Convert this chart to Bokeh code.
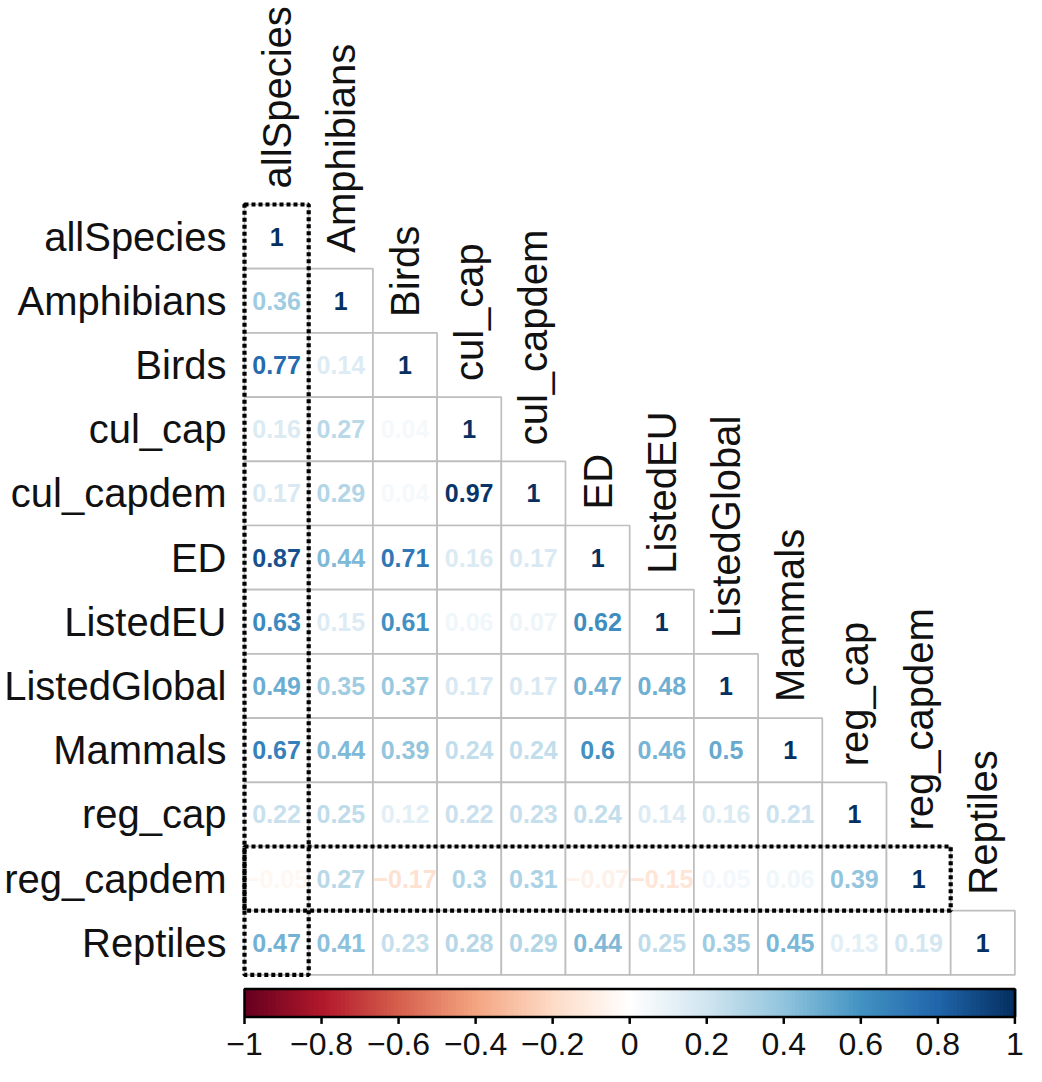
import math
from bokeh.plotting import figure
from bokeh.models import Range1d, ColumnDataSource
from bokeh.transform import linear_cmap
from bokeh.core.properties import value
from bokeh.embed import file_html
from bokeh.resources import INLINE

# ---------------- data ----------------
variables = ["allSpecies", "Amphibians", "Birds", "cul_cap", "cul_capdem", "ED",
             "ListedEU", "ListedGlobal", "Mammals", "reg_cap", "reg_capdem", "Reptiles"]

# lower triangle of the correlation matrix, row by row (columns 0..i)
corr_lower = [
    [1],
    [0.36, 1],
    [0.77, 0.14, 1],
    [0.16, 0.27, 0.04, 1],
    [0.17, 0.29, 0.04, 0.97, 1],
    [0.87, 0.44, 0.71, 0.16, 0.17, 1],
    [0.63, 0.15, 0.61, 0.06, 0.07, 0.62, 1],
    [0.49, 0.35, 0.37, 0.17, 0.17, 0.47, 0.48, 1],
    [0.67, 0.44, 0.39, 0.24, 0.24, 0.6, 0.46, 0.5, 1],
    [0.22, 0.25, 0.12, 0.22, 0.23, 0.24, 0.14, 0.16, 0.21, 1],
    [-0.05, 0.27, -0.17, 0.3, 0.31, -0.07, -0.15, 0.05, 0.06, 0.39, 1],
    [0.47, 0.41, 0.23, 0.28, 0.29, 0.44, 0.25, 0.35, 0.45, 0.13, 0.19, 1],
]

highlight_column = "allSpecies"
highlight_row = "reg_capdem"

colorbar_ticks = [-1, -0.8, -0.6, -0.4, -0.2, 0, 0.2, 0.4, 0.6, 0.8, 1]
colorbar_labels = ["\u22121", "\u22120.8", "\u22120.6", "\u22120.4", "\u22120.2", "0",
                   "0.2", "0.4", "0.6", "0.8", "1"]

rdbu_anchors = ["#67001F", "#B2182B", "#D6604D", "#F4A582", "#FDDBC7", "#FFFFFF",
                "#D1E5F0", "#92C5DE", "#4393C3", "#2166AC", "#053061"]

# ---------------- palette (colorRampPalette-like) ----------------
def hex2rgb(h):
    h = h.lstrip("#")
    return [int(h[k:k + 2], 16) for k in (0, 2, 4)]

def ramp(anchors, n):
    rgb = [hex2rgb(a) for a in anchors]
    m = len(anchors) - 1
    out = []
    for k in range(n):
        t = k / (n - 1) * m
        i = min(int(t), m - 1)
        f = t - i
        c = [round(rgb[i][q] + (rgb[i + 1][q] - rgb[i][q]) * f) for q in range(3)]
        out.append("#%02x%02x%02x" % tuple(c))
    return out

palette = ramp(rdbu_anchors, 200)

# ---------------- geometry (pixels) ----------------
W, H = 1026, 1066
CELL = 64.2
GRID_LEFT = 244.0
GRID_TOP = 204.0
n = len(variables)

x_start = -GRID_LEFT / CELL
x_end = (W - GRID_LEFT) / CELL
y_top = -GRID_TOP / CELL
y_bottom = (H - GRID_TOP) / CELL

p = figure(width=W, height=H, output_backend="svg", toolbar_location=None,
           x_range=Range1d(x_start, x_end), y_range=Range1d(y_bottom, y_top),
           min_border=0, x_axis_location=None, y_axis_location=None)
p.grid.visible = False
p.outline_line_color = None
p.background_fill_color = "white"
p.border_fill_color = "white"

# colorbar range: value -1 -> x=0 ; value 1 -> x=n
p.extra_x_ranges["cb"] = Range1d(-1 + x_start * 2 / n, -1 + x_end * 2 / n)

def fmt(v):
    s = ("%.2f" % v).rstrip("0").rstrip(".")
    return s.replace("-", "\u2212")

xs, ys, vals, labels = [], [], [], []
for i, row in enumerate(corr_lower):
    for j, v in enumerate(row):
        xs.append(j + 0.5)
        ys.append(i + 0.5)
        vals.append(v)
        labels.append(fmt(v))

src = ColumnDataSource(dict(x=xs, y=ys, r=vals, lab=labels))

p.rect(x="x", y="y", width=1, height=1, source=src, fill_color="white",
       line_color="#BEBEBE", line_width=1.7)

p.text(x="x", y="y", text="lab", source=src,
       text_color=linear_cmap("r", palette, -1, 1),
       text_font=value("Liberation Sans"), text_font_style="bold",
       text_font_size="25px", text_align="center", text_baseline="middle")

# row labels
p.text(x=[0] * n, y=[i + 0.5 for i in range(n)], text=variables,
       x_offset=-18, text_align="right", text_baseline="middle",
       text_font=value("Liberation Sans"), text_font_size="40px", text_color="#111111")

# column labels (rotated)
gap = 16 / CELL
p.text(x=[j + 0.5 for j in range(n)], y=[j - gap for j in range(n)], text=variables,
       angle=math.pi / 2, text_align="left", text_baseline="middle",
       text_font=value("Liberation Sans"), text_font_size="40px", text_color="#111111")

# highlight boxes
ci = variables.index(highlight_column)
ri = variables.index(highlight_row)
p.quad(left=[ci], right=[ci + 1], top=[ci], bottom=[n], fill_color=None,
       line_color="black", line_width=4.2, line_dash="4 3")
p.quad(left=[0], right=[ri + 1], top=[ri], bottom=[ri + 1], fill_color=None,
       line_color="black", line_width=4.2, line_dash="4 3")

# colorbar
bar_top = n + 14 / CELL
bar_bottom = n + 42 / CELL
m = len(palette)
step = 2.0 / m
p.quad(left=[-1 + k * step for k in range(m)],
       right=[-1 + (k + 1) * step + 0.004 for k in range(m)],
       top=bar_top, bottom=bar_bottom, fill_color=palette, line_color=None,
       x_range_name="cb")
p.quad(left=[-1], right=[1], top=[bar_top], bottom=[bar_bottom], fill_color=None,
       line_color="black", line_width=2.5, x_range_name="cb")
p.segment(x0=colorbar_ticks, x1=colorbar_ticks, y0=bar_bottom, y1=bar_bottom + 7 / CELL,
          line_color="black", line_width=2.5, x_range_name="cb")
p.text(x=colorbar_ticks, y=[bar_bottom + 27 / CELL] * len(colorbar_ticks),
       text=colorbar_labels, x_range_name="cb", text_align="center",
       text_baseline="middle", text_font=value("Liberation Sans"),
       text_font_size="32px", text_color="#111111")

open("out.html", "w").write(file_html(p, INLINE))
